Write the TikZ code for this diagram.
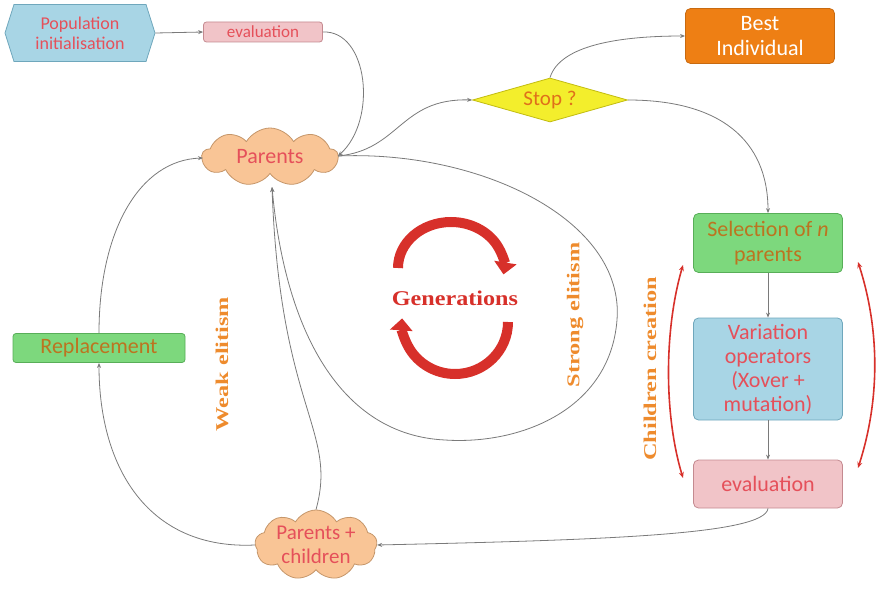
\documentclass[tikz,border=0pt]{standalone}
\usepackage{fontspec}
\setmainfont{Carlito}
\newfontfamily\labfont{Liberation Serif}
\usetikzlibrary{shapes.geometric,shapes.symbols,arrows.meta}
\definecolor{popblue}{HTML}{A8D5E5}
\definecolor{popblueD}{HTML}{6FA7BC}
\definecolor{pinkF}{HTML}{F1C4C8}
\definecolor{pinkD}{HTML}{C48A90}
\definecolor{greenF}{HTML}{7DD87D}
\definecolor{greenD}{HTML}{58AE58}
\definecolor{orangeF}{HTML}{EE7F14}
\definecolor{orangeD}{HTML}{C86A10}
\definecolor{yellowF}{HTML}{F3EE2C}
\definecolor{yellowD}{HTML}{C2BC10}
\definecolor{cloudF}{HTML}{F9C596}
\definecolor{cloudD}{HTML}{C5966A}
\definecolor{txtred}{HTML}{E5505A}
\definecolor{txtbrown}{HTML}{BC7420}
\definecolor{stoptxt}{HTML}{E0701A}
\definecolor{labor}{HTML}{EE8B2D}
\definecolor{genred}{HTML}{D7302A}
\definecolor{conncol}{HTML}{7A7A7A}
\tikzset{
  conn/.style={draw=conncol, line width=0.8pt, -{Stealth[length=5pt,width=4pt]}},
  boxbase/.style={rounded corners=5pt, line width=0.8pt, align=center, inner sep=1pt},
  pinkbox/.style={boxbase, fill=pinkF, draw=pinkD, text=txtred},
  greenbox/.style={boxbase, fill=greenF, draw=greenD, text=txtbrown},
  bluebox/.style={boxbase, fill=popblue, draw=popblueD, text=txtred},
  cloudnode/.style={cloud, cloud puffs=9, cloud puff arc=120, cloud ignores aspect, fill=cloudF, draw=cloudD, line width=0.8pt, inner sep=0pt},
  cloudtext/.style={text=txtred, align=center, inner sep=0pt},
  sidelabel/.style={rotate=90, text=labor, font=\labfont\bfseries\fontsize{18}{20}\selectfont, inner sep=0pt},
  bracket/.style={draw=genred, line width=1.6pt, {Stealth[length=6pt,width=5pt]}-{Stealth[length=6pt,width=5pt]}},
  genarrow/.style={draw=genred, line width=10pt, -{Triangle[length=12pt,width=22pt]}}
}
\newcommand{\stretchlab}[1]{\scalebox{1.35}[1]{#1}}
\begin{document}
\begin{tikzpicture}[x=1pt,y=1pt]
\useasboundingbox (0,0) rectangle (878,-594);
% nodes
\node[signal, signal to=west and east, signal pointer angle=145, fill=popblue, draw=popblueD, line width=0.8pt,
      minimum width=150pt, minimum height=57pt, text=txtred, align=center, inner sep=0pt,
      font=\fontsize{18}{20}\selectfont] (pop) at (80,-33) {Population\\initialisation};
\node[pinkbox, rounded corners=3pt, minimum width=119pt, minimum height=20pt, inner sep=0pt, font=\fontsize{17}{18}\selectfont] (evtop) at (263,-32) {evaluation};
\node[boxbase, fill=orangeF, draw=orangeD, text=white, minimum width=149pt, minimum height=55pt, font=\fontsize{22}{25}\selectfont] (best) at (760,-36) {Best\\Individual};
\node[diamond, aspect=3.5, fill=yellowF, draw=yellowD, line width=0.8pt, text=stoptxt, inner sep=0pt,
      minimum width=155pt, minimum height=44pt, font=\fontsize{21}{23}\selectfont] (stop) at (550,-100) {Stop ?};
\node[cloudnode, minimum width=136pt, minimum height=58pt] (parents) at (270,-157) {};
\node[cloudtext, font=\fontsize{22}{24}\selectfont] (parentsT) at (270,-157) {Parents};
\node[greenbox, minimum width=149pt, minimum height=59pt, font=\fontsize{22}{25}\selectfont] (sel) at (768,-243) {Selection of \textit{n}\\parents};
\node[bluebox, minimum width=149pt, minimum height=102pt, font=\fontsize{22}{24}\selectfont] (var) at (768,-369) {Variation\\operators\\(Xover +\\mutation)};
\node[pinkbox, minimum width=149pt, minimum height=48pt, font=\fontsize{22}{25}\selectfont] (evbot) at (768,-484) {evaluation};
\node[greenbox, rounded corners=3pt, minimum width=172pt, minimum height=29pt, font=\fontsize{22}{24}\selectfont] (rep) at (99,-348) {Replacement};
\node[cloudnode, minimum width=122pt, minimum height=70pt] (pc) at (316,-545) {};
\node[cloudtext, font=\fontsize{21}{24}\selectfont] (pcT) at (316,-545) {Parents +\\children};
% labels
\node[sidelabel] (strong) at (575,-315) {\stretchlab{Strong elitism}};
\node[sidelabel] (weak) at (222,-364) {\stretchlab{Weak elitism}};
\node[sidelabel] (child) at (650,-369) {\stretchlab{Children creation}};
\node[text=genred, font=\labfont\bfseries\fontsize{21}{23}\selectfont] (gen) at (455,-298) {\scalebox{1.15}[1]{Generations}};
% generation arrows
\draw[genarrow] (398,-268) arc[start angle=180, end angle=-8, x radius=53, y radius=46];
\draw[genarrow] (508,-322) arc[start angle=0, end angle=-184, x radius=53, y radius=52];
% brackets
\coordinate (lbt) at (683,-265);
\coordinate (lbb) at (683,-478);
\coordinate (rbt) at (858,-262);
\coordinate (rbb) at (858,-468);
\draw[bracket] (lbt) .. controls (664,-330) and (664,-415) .. (lbb);
\draw[bracket] (rbt) .. controls (880,-330) and (880,-400) .. (rbb);
% connectors
\coordinate (pE) at (338,-156);
\coordinate (pS) at (272,-187);
\coordinate (pW) at (203,-158);
\draw[conn] (pop.east) -- (evtop.west);
\draw[conn] (evtop.east) .. controls (368,-30) and (378,-120) .. (pE);
\draw[conn] (pE) .. controls (400,-150) and (400,-98) .. (stop.west);
\draw[conn] (stop.north) .. controls (560,-45) and (620,-36) .. (best.west);
\draw[conn] (stop.east) .. controls (720,-100) and (768,-140) .. (sel.north);
\draw[conn] (sel.south) -- (var.north);
\draw[conn] (var.south) -- (evbot.north);
\draw[conn] (evbot.south) .. controls (765,-535) and (600,-540) .. (pc.east);
\draw[conn] (pc.west) .. controls (150,-550) and (99,-470) .. (rep.south);
\draw[conn] (rep.north) .. controls (99,-230) and (140,-160) .. (pW);
\draw[conn] (pc.north) .. controls (338,-430) and (280,-410) .. (pS);
\draw[conn] (pE) .. controls (480,-150) and (625,-220) .. (617,-320)
      .. controls (610,-410) and (520,-445) .. (445,-440)
      .. controls (340,-435) and (285,-330) .. (pS);
\end{tikzpicture}
\end{document}
